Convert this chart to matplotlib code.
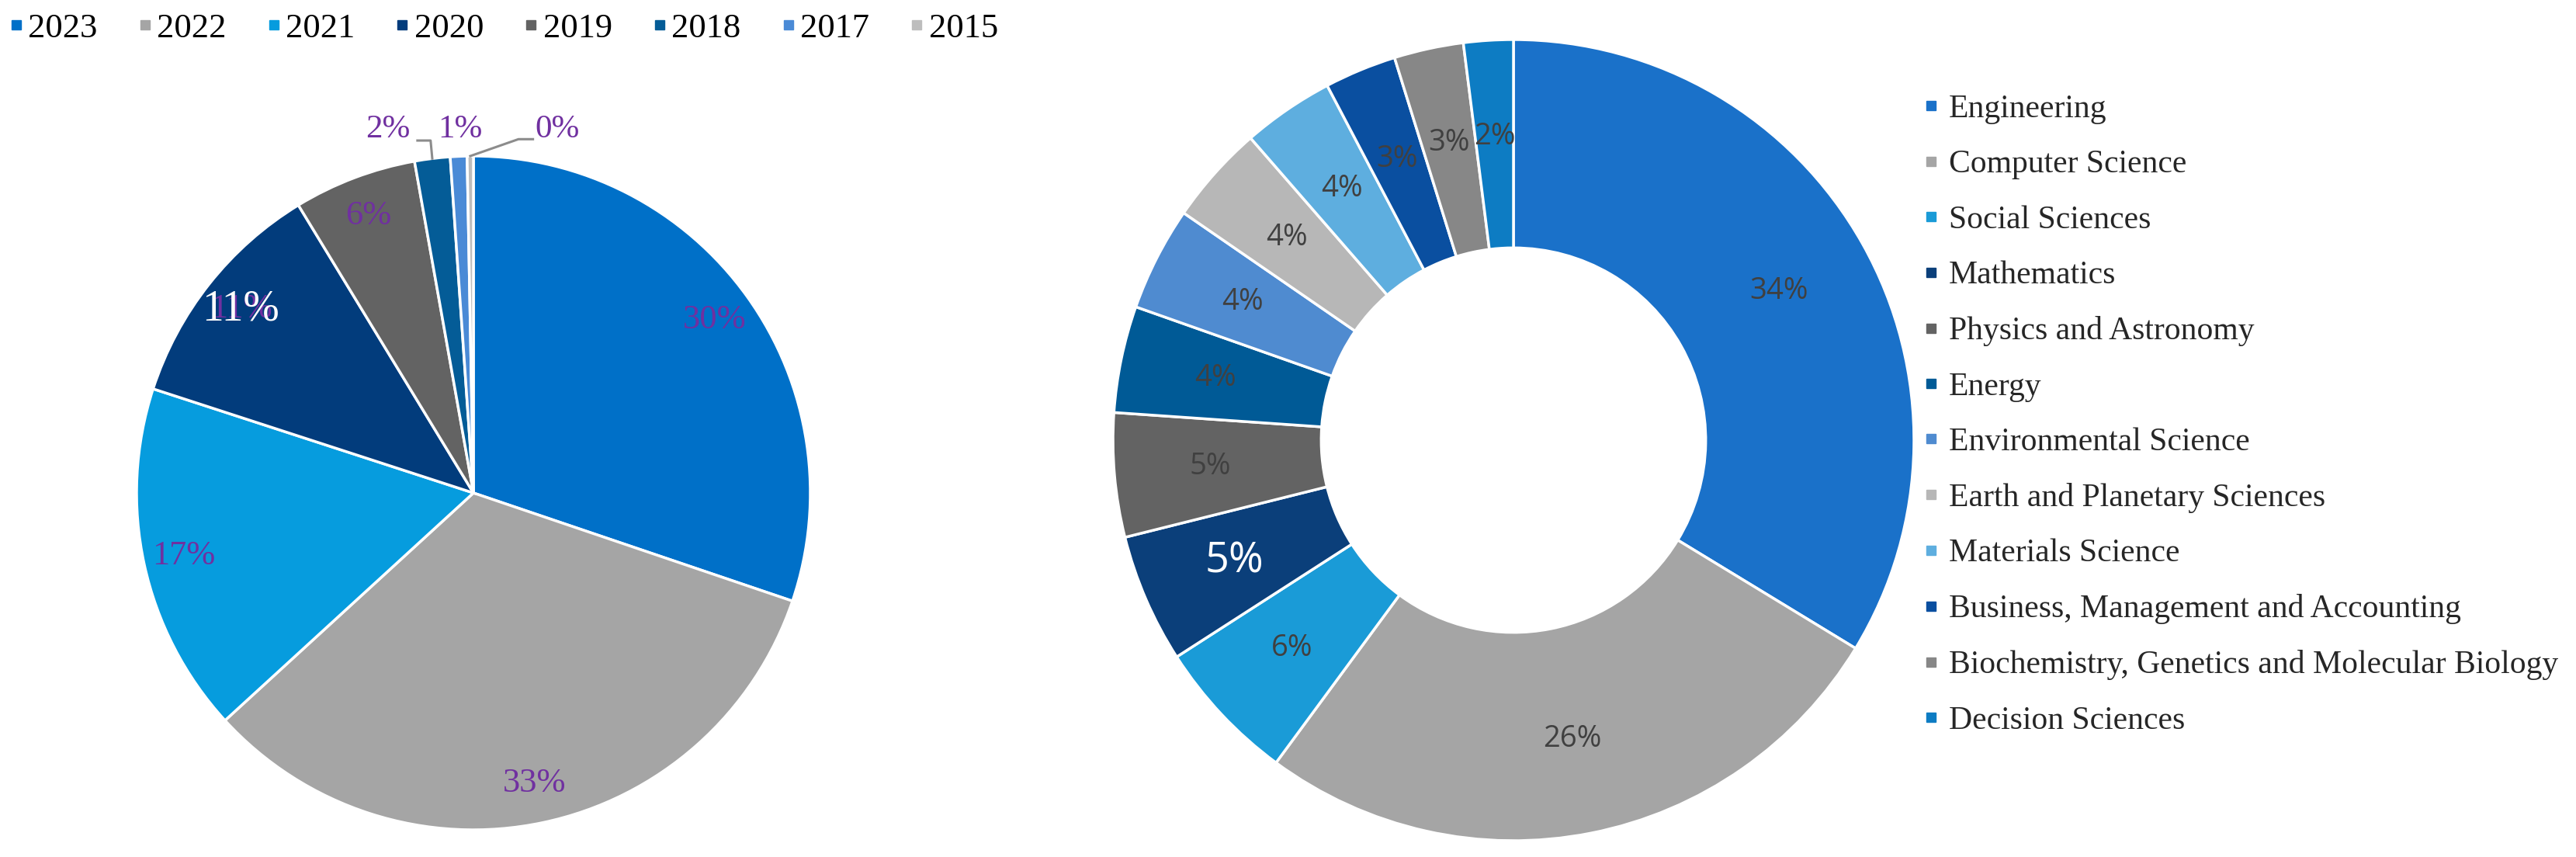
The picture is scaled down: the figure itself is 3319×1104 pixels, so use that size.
import matplotlib
matplotlib.use("Agg")
import numpy as np
import matplotlib.pyplot as plt
from matplotlib.lines import Line2D

# publications per year (share, %)
years = ["2023", "2022", "2021", "2020", "2019", "2018", "2017", "2015"]
year_share = [30.2, 33.0, 16.8, 11.3, 5.9, 1.7, 0.8, 0.3]
year_labels = ["30%", "33%", "17%", "11%", "6%", "2%", "1%", "0%"]
year_colors = ["#0070C8", "#A5A5A5", "#069CDE", "#023C7C", "#636363",
               "#045C97", "#4A8AD6", "#BDBDBD"]

# publications per subject area (share, %)
areas = ["Engineering", "Computer Science", "Social Sciences", "Mathematics",
         "Physics and Astronomy", "Energy", "Environmental Science",
         "Earth and Planetary Sciences", "Materials Science",
         "Business, Management and Accounting",
         "Biochemistry, Genetics and Molecular Biology", "Decision Sciences"]
area_share = [33.7, 26.4, 5.8, 5.2, 5.0, 4.3, 4.2, 4.0, 3.7, 2.9, 2.8, 2.0]
area_labels = ["34%", "26%", "6%", "5%", "5%", "4%", "4%", "4%", "4%",
               "3%", "3%", "2%"]
area_colors = ["#1A71C9", "#A5A5A5", "#1A9BD7", "#0B3F7A", "#636363",
               "#005A96", "#4F8BD0", "#B7B7B7", "#5EAEDF", "#0A4FA0",
               "#878787", "#0D7CC3"]

W, H = 3319, 1104
fig = plt.figure(figsize=(W / 100, H / 100), dpi=100)


def square_axes(cx, cy, r, lim=1.1):
    # axes whose data unit equals r pixels, centred at pixel (cx, cy)
    half = lim * r
    return fig.add_axes([(cx - half) / W, (H - cy - half) / H,
                         2 * half / W, 2 * half / H])


def mid(w, r):
    a = np.deg2rad((w.theta1 + w.theta2) / 2)
    return r * np.cos(a), r * np.sin(a)


# ---- left pie
ax1 = square_axes(610, 635, 434)
wedges1, _ = ax1.pie(year_share, colors=year_colors, startangle=90,
                     counterclock=False, radius=1,
                     wedgeprops=dict(edgecolor="white", linewidth=2.5))
ax1.set_xlim(-1.1, 1.1)
ax1.set_ylim(-1.1, 1.1)
ax1.set_aspect("equal")

serif = "Liberation Serif"
purple = "#7030A0"
for i in range(5):
    x, y = mid(wedges1[i], 0.88)
    ax1.text(x, y, year_labels[i], ha="center", va="center", color=purple,
             fontsize=32, family=serif)
# the 2020 label is repeated in white on top
x, y = mid(wedges1[3], 0.88)
ax1.text(x, y, year_labels[3], ha="center", va="center", color="white",
         fontsize=40, family=serif)

# small slices: labels outside with leaders
shifts = [-0.131, 0.005, 0.258]
for k, i in enumerate(range(5, 8)):
    wx, wy = mid(wedges1[i], 1.0)
    tx, ty = wx + shifts[k], 1.078
    ax1.text(tx, ty, year_labels[i], ha="center", va="center", color=purple,
             fontsize=31, family=serif)
    if i == 5:
        ax1.plot([tx + 0.087, tx + 0.126, wx], [ty - 0.032, ty - 0.032, wy],
                 color="#8C8C8C", lw=2.2, clip_on=False)
    if i == 7:
        ax1.plot([tx - 0.072, tx - 0.115, wx], [ty - 0.028, ty - 0.028, wy],
                 color="#8C8C8C", lw=2.2, clip_on=False)

# ---- right donut
ax2 = square_axes(1950, 567, 516)
wedges2, _ = ax2.pie(area_share, colors=area_colors, startangle=90,
                     counterclock=False, radius=1,
                     wedgeprops=dict(width=0.52, edgecolor="white",
                                     linewidth=2.5))
ax2.set_xlim(-1.1, 1.1)
ax2.set_ylim(-1.1, 1.1)
ax2.set_aspect("equal")

for i, w in enumerate(wedges2):
    x, y = mid(w, 0.76)
    if i == 3:
        ax2.text(x, y, area_labels[i], ha="center", va="center",
                 color="white", fontsize=39, family="Open Sans")
    else:
        ax2.text(x, y, area_labels[i], ha="center", va="center",
                 color="#404040", fontsize=27.5, family="Open Sans")

# ---- legends
h1 = [Line2D([], [], marker="s", ls="", color=c, markersize=9)
      for c in year_colors]
fig.legend(h1, years, loc="upper left", bbox_to_anchor=(0.0036, 0.985),
           ncol=8, frameon=False, borderpad=0, borderaxespad=0,
           handlelength=0.4, handletextpad=0.15, columnspacing=1.17,
           prop=dict(family=serif, size=32))

h2 = [Line2D([], [], marker="s", ls="", color=c, markersize=8)
      for c in area_colors]
leg2 = fig.legend(h2, areas, loc="upper left", bbox_to_anchor=(0.7464, 0.890),
                  ncol=1, frameon=False, borderpad=0, borderaxespad=0,
                  handlelength=0.5, handletextpad=0.3, labelspacing=0.79,
                  prop=dict(family=serif, size=30))
for t in leg2.get_texts():
    t.set_color("#262626")

fig.savefig("out.png", dpi=100)
